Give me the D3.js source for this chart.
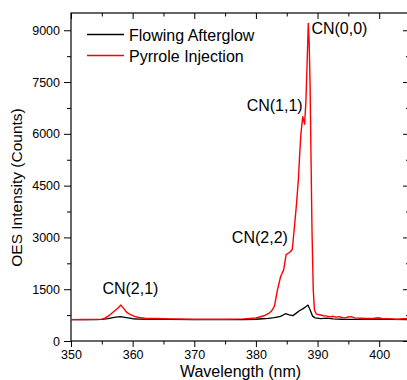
<!DOCTYPE html>
<html><head><meta charset="utf-8">
<script src="https://cdn.jsdelivr.net/npm/d3@7/dist/d3.min.js"></script>
<style>
html,body{margin:0;padding:0;background:#fff;overflow:hidden}
text{font-family:"Liberation Sans",Arial,Helvetica,sans-serif;fill:#000}
</style></head><body>
<svg id="c" width="407" height="380"></svg>
<script>
// Flowing Afterglow (black)
const afterglowWl = [350,352,354,355,356,357,358,359,360,361,363,366,370,374,378,380,381,382,383,384,384.8,385.4,386,386.5,387,387.6,388.1,388.45,388.8,389.2,389.6,390.5,391.5,392.5,394,396,398,400,402,405];
const afterglowI  = [620,620,622,628,650,685,705,680,645,635,630,625,620,618,620,630,645,655,675,715,790,760,735,800,870,930,990,1040,900,720,670,650,660,640,630,625,630,635,625,620];
// Pyrrole Injection (red)
const pyrroleWl = [350,352,354,355,355.5,356.2,357,357.6,358.1,358.6,359.1,359.6,360.2,361,362,364,366,370,375,378,380,381.3,382,382.5,383,383.5,384,384.5,384.9,385.5,385.9,386.2,386.6,386.9,387.1,387.3,387.6,387.9,388.1,388.3,388.5,388.65,388.8,388.95,389.1,389.3,389.5,389.8,390.3,391,391.6,392,392.5,393,393.5,394,394.5,395,395.5,396,397,398,399,399.8,400.5,402,403,404,405];
const pyrroleI  = [620,622,625,635,660,740,860,950,1040,930,820,770,720,680,660,650,640,630,628,640,665,730,790,860,1000,1480,1860,2060,2500,2570,2650,3200,4000,4700,5400,6000,6500,6280,6900,8000,9200,8600,7300,5200,3200,1500,900,780,760,730,720,700,715,690,705,680,670,695,705,670,660,650,650,675,650,640,630,645,640];

const yMajor = [0,1500,3000,4500,6000,7500,9000];
const yMinor = [750,2250,3750,5250,6750,8250];
const xMajor = [350,360,370,380,390,400];
const xMinor = [355,365,375,385,395,405];

const labels = [
  {text:"CN(0,0)", wl:389.0, v:8900},
  {text:"CN(1,1)", wl:378.5, v:6650},
  {text:"CN(2,2)", wl:376.1, v:2850},
  {text:"CN(2,1)", wl:355.1, v:1360}
];
const legendItems = [{name:"Flowing Afterglow", color:"#000000"},{name:"Pyrrole Injection", color:"#ff0000"}];

const L=71, R=410, T=13, B=341;
const svg = d3.select("#c");
const x = d3.scaleLinear().domain([350,405]).range([L,R]);
const y = d3.scaleLinear().domain([0,9500]).range([B,T]);

function styleAxis(g){ g.select(".domain").remove(); g.selectAll("line").attr("stroke","#000").attr("stroke-width",1); g.selectAll("text").style("font-size","12.5px").attr("fill","#000"); }

// left
svg.append("g").attr("transform",`translate(${L},0)`).call(d3.axisLeft(y).tickValues(yMajor).tickSize(7).tickPadding(4).tickFormat(d3.format("d"))).call(styleAxis);
svg.append("g").attr("transform",`translate(${L},0)`).call(d3.axisLeft(y).tickValues(yMinor).tickSize(4).tickFormat("")).call(styleAxis);
// right (inward)
svg.append("g").attr("transform",`translate(${R},0)`).call(d3.axisLeft(y).tickValues(yMajor).tickSize(7).tickFormat("")).call(styleAxis);
svg.append("g").attr("transform",`translate(${R},0)`).call(d3.axisLeft(y).tickValues(yMinor).tickSize(4).tickFormat("")).call(styleAxis);
// bottom
svg.append("g").attr("transform",`translate(0,${B})`).call(d3.axisBottom(x).tickValues(xMajor).tickSize(6).tickPadding(3).tickFormat(d3.format("d"))).call(styleAxis);
svg.append("g").attr("transform",`translate(0,${B})`).call(d3.axisBottom(x).tickValues(xMinor).tickSize(3.5).tickFormat("")).call(styleAxis);
// top (inward)
svg.append("g").attr("transform",`translate(0,${T})`).call(d3.axisBottom(x).tickValues(xMajor).tickSize(6).tickFormat("")).call(styleAxis);
svg.append("g").attr("transform",`translate(0,${T})`).call(d3.axisBottom(x).tickValues(xMinor).tickSize(3.5).tickFormat("")).call(styleAxis);

// frame
svg.append("rect").attr("x",L).attr("y",T).attr("width",R-L).attr("height",B-T).attr("fill","none").attr("stroke","#000").attr("stroke-width",1.2);

const line = d3.line().x(d=>x(d[0])).y(d=>y(d[1]));
svg.append("path").datum(afterglowWl.map((w,i)=>[w,afterglowI[i]])).attr("d",line).attr("fill","none").attr("stroke","#000").attr("stroke-width",1.3).attr("stroke-linejoin","round");
svg.append("path").datum(pyrroleWl.map((w,i)=>[w,pyrroleI[i]])).attr("d",line).attr("fill","none").attr("stroke","#ff0000").attr("stroke-width",1.4).attr("stroke-linejoin","round");

labels.forEach(l=>{
  svg.append("text").attr("x",x(l.wl)).attr("y",y(l.v)).style("font-size","16px").text(l.text);
});

// legend
legendItems.forEach((it,i)=>{
  const ly = 34.5 + i*21;
  svg.append("line").attr("x1",87).attr("x2",124).attr("y1",ly).attr("y2",ly).attr("stroke",it.color).attr("stroke-width",1.3);
  svg.append("text").attr("x",129).attr("y",ly+6).style("font-size","16px").text(it.name);
});

// axis titles
svg.append("text").attr("x",(L+R)/2).attr("y",377).attr("text-anchor","middle").style("font-size","16px").text("Wavelength (nm)");
svg.append("text").attr("transform",`translate(21.5,${(103+272)/2}) rotate(-90)`).attr("text-anchor","middle").style("font-size","15.5px").text("OES Intensity (Counts)");
</script></body></html>
